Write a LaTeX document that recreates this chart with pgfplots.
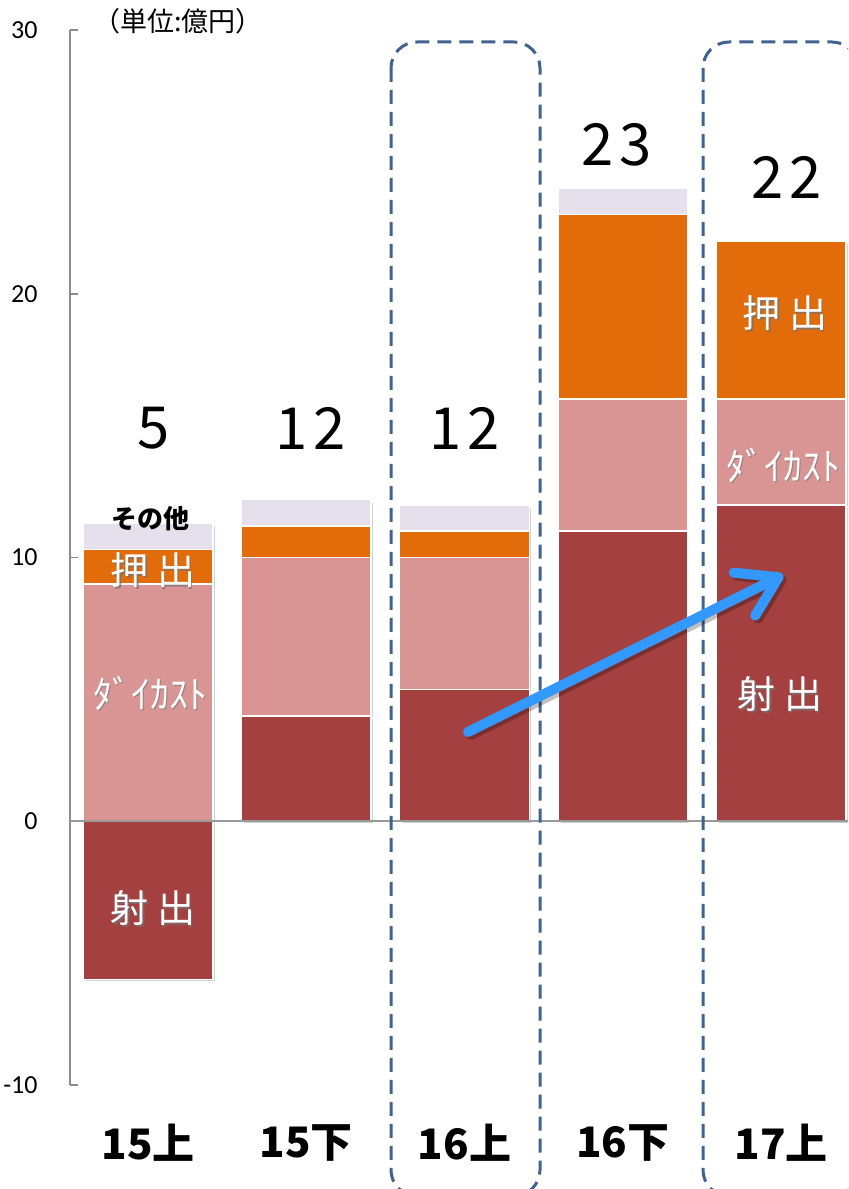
\documentclass[border=0pt]{standalone}
\usepackage{pgfplots}
\pgfplotsset{compat=1.18}
\usepackage{fontspec}
\setmainfont{Carlito}
\newfontfamily\jp{Noto Sans CJK JP}
\newfontfamily\jpnum{Noto Sans CJK JP}[LetterSpace=10]
\usetikzlibrary{arrows.meta,shadows}
\definecolor{injc}{HTML}{A4403F}
\definecolor{diec}{HTML}{D99594}
\definecolor{extc}{HTML}{E36C0A}
\definecolor{othc}{HTML}{E5E0EC}
\definecolor{dashc}{HTML}{41618F}
\definecolor{arrc}{HTML}{3399FF}
\newcommand\wl[3]{%
  \node[text=black!55, opacity=0.7] at ([xshift=0.8pt,yshift=-0.8pt]#1,#2) {#3};
  \node[text=white] at (#1,#2) {#3};}
\begin{document}
\begin{tikzpicture}
\useasboundingbox (0,0) rectangle (424pt,594.5pt);
\clip (0,0) rectangle (424pt,594.5pt);
\begin{axis}[
  at={(35pt,52pt)}, anchor=south west,
  scale only axis, width=389pt, height=527.5pt,
  xmin=-0.493, xmax=4.423, ymin=-10, ymax=30,
  ytick={-10,0,10,20,30},
  axis y line*=left, axis x line*=bottom,
  x axis line style={draw=none},
  y axis line style={draw=black!45, line width=0.8pt},
  ytick style={draw=black!45, line width=0.8pt},
  tick align=inside, major tick length=4pt,
  xtick={0,1,2,3,4},
  xticklabels={15上,15下,16上,16下,17上},
  xtick style={draw=none},
  xticklabel style={font=\jp\bfseries\fontsize{21}{21}\selectfont, anchor=center, yshift=-25pt},
  yticklabel style={font=\fontsize{13}{13}\selectfont, anchor=east, inner sep=0pt, xshift=-16pt},
  /pgf/number format/assume math mode=true,
  ybar, bar width=65pt, bar shift=0pt,
]
% cumulative tops of the stacked segments
\addplot[fill=othc, draw=white, line width=0.8pt,
  drop shadow={shadow xshift=1.2pt, shadow yshift=-1.2pt, opacity=1, fill=black!18}]
  coordinates {(0,11.3) (1,12.2) (2,12.0) (3,24.0) (4,22.0)};
\addplot[fill=extc, draw=white, line width=0.8pt]
  coordinates {(0,10.3) (1,11.2) (2,11.0) (3,23.0) (4,22.0)};
\addplot[fill=diec, draw=white, line width=0.8pt]
  coordinates {(0,9) (1,10) (2,10) (3,16) (4,16)};
\addplot[fill=injc, draw=white, line width=0.8pt,
  drop shadow={shadow xshift=1.2pt, shadow yshift=-1.2pt, opacity=1, fill=black!18}]
  coordinates {(0,-6) (1,4) (2,5) (3,11) (4,12)};
\draw[black!40, line width=1pt] (axis cs:-0.493,0) -- (axis cs:4.423,0);
\end{axis}
\begin{scope}[x=0.5pt, y=-0.5pt, yshift=594.5pt]
  \node[font=\jp\fontsize{13.5}{13.5}\selectfont] at (178,21) {（単位:億円）};
  \begin{scope}[font=\jpnum\fontsize{29}{29}\selectfont]
    \node at (154,428) {5};
    \node at (311,428) {12};
    \node at (465,428) {12};
    \node at (617,145) {23};
    \node at (787,177) {22};
  \end{scope}
  \node[font=\jp\bfseries\fontsize{13}{13}\selectfont] at (150,519) {その他};
  \begin{scope}[font=\jp\fontsize{19}{19}\selectfont]
    \wl{153}{570}{押 出}
    \wl{150}{693}{ﾀﾞｲｶｽﾄ}
    \wl{153}{908}{射 出}
    \wl{785}{313}{押 出}
    \wl{783}{465}{ﾀﾞｲｶｽﾄ}
    \wl{780}{694}{射 出}
  \end{scope}
  \draw[dashc, line width=1.5pt, dash pattern=on 7pt off 4pt, rounded corners=13pt]
    (391,42) rectangle (540,1196);
  \draw[dashc, line width=1.5pt, dash pattern=on 7pt off 4pt, rounded corners=13pt]
    (703,42) rectangle (858,1196);
  \draw[black, opacity=0.25, line width=5pt, line cap=round,
    -{Straight Barb[length=19pt, width=24pt, round]}]
    ([xshift=1.5pt,yshift=-1.5pt]468,732) -- ([xshift=1.5pt,yshift=-1.5pt]783,575);
  \draw[arrc, line width=5pt, line cap=round,
    -{Straight Barb[length=19pt, width=24pt, round]}]
    (468,732) -- (783,575);
\end{scope}
\end{tikzpicture}
\end{document}
